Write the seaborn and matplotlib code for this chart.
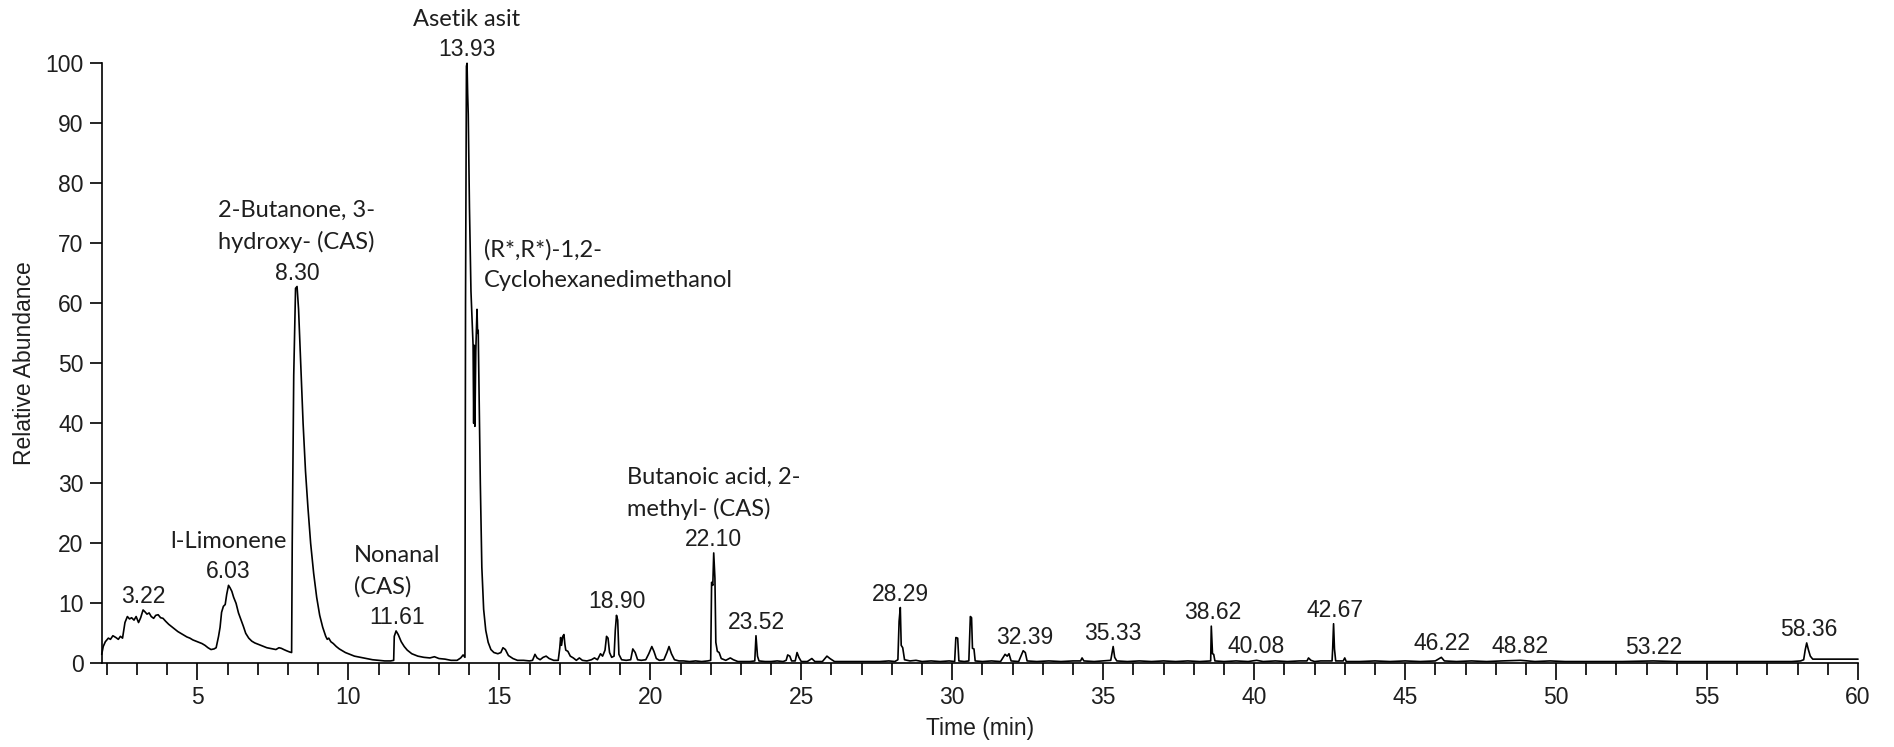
import numpy as np
import pandas as pd
import matplotlib
matplotlib.use("Agg")
import matplotlib.pyplot as plt
from matplotlib.ticker import MultipleLocator
import seaborn as sns

# chromatogram trace (time in min, relative abundance in %)
time_min = [
    1.83, 1.88, 1.95, 2.05, 2.12, 2.20, 2.30, 2.38, 2.45, 2.52, 2.60, 2.68, 2.75, 2.82, 2.90, 2.97,
    3.05, 3.12, 3.20, 3.26, 3.33, 3.40, 3.47, 3.55, 3.62, 3.70, 3.78, 3.86, 3.95, 4.05, 4.15, 4.25,
    4.35, 4.45, 4.55, 4.65, 4.75, 4.85, 4.95, 5.05, 5.15, 5.25, 5.35, 5.45, 5.55, 5.62, 5.70, 5.75,
    5.80, 5.86, 5.92, 5.97, 6.03, 6.08, 6.14, 6.20, 6.28, 6.36, 6.44, 6.52, 6.60, 6.70, 6.80, 6.90,
    7.00, 7.10, 7.20, 7.30, 7.40, 7.50, 7.60, 7.70, 7.78, 7.86, 7.95, 8.05, 8.12, 8.14, 8.19, 8.25,
    8.30, 8.35, 8.42, 8.50, 8.58, 8.66, 8.75, 8.85, 8.95, 9.05, 9.15, 9.25, 9.30, 9.35, 9.42, 9.50,
    9.60, 9.70, 9.80, 9.90, 10.0, 10.2, 10.4, 10.6, 10.8, 11.0, 11.2, 11.4, 11.5, 11.52, 11.58, 11.65,
    11.75, 11.85, 11.95, 12.1, 12.3, 12.5, 12.7, 12.85, 13.0, 13.2, 13.4, 13.6, 13.72, 13.8, 13.86, 13.88,
    13.91, 13.93, 13.95, 13.97, 14.01, 14.06, 14.10, 14.13, 14.15, 14.17, 14.19, 14.22, 14.26, 14.28, 14.30, 14.33,
    14.37, 14.42, 14.48, 14.55, 14.63, 14.72, 14.82, 14.95, 15.05, 15.12, 15.20, 15.30, 15.45, 15.60, 15.80, 16.00,
    16.10, 16.18, 16.25, 16.35, 16.45, 16.55, 16.65, 16.80, 16.95, 17.00, 17.03, 17.06, 17.10, 17.14, 17.17, 17.20,
    17.27, 17.35, 17.45, 17.55, 17.65, 17.75, 17.90, 18.05, 18.15, 18.25, 18.35, 18.42, 18.50, 18.55, 18.60, 18.65,
    18.72, 18.80, 18.84, 18.88, 18.92, 18.96, 19.05, 19.20, 19.35, 19.42, 19.50, 19.58, 19.70, 19.85, 19.95, 20.05,
    20.12, 20.20, 20.30, 20.45, 20.55, 20.62, 20.70, 20.80, 20.95, 21.10, 21.30, 21.50, 21.70, 21.90, 22.00, 22.03,
    22.07, 22.10, 22.14, 22.17, 22.22, 22.28, 22.35, 22.50, 22.65, 22.75, 22.90, 23.10, 23.30, 23.46, 23.50, 23.55,
    23.60, 23.80, 24.00, 24.20, 24.40, 24.50, 24.55, 24.62, 24.68, 24.80, 24.86, 24.92, 25.00, 25.20, 25.35, 25.45,
    25.70, 25.85, 25.95, 26.10, 26.40, 26.80, 27.20, 27.60, 27.90, 28.10, 28.20, 28.24, 28.28, 28.31, 28.36, 28.42,
    28.60, 28.80, 29.00, 29.30, 29.60, 29.90, 30.08, 30.12, 30.18, 30.22, 30.40, 30.55, 30.60, 30.64, 30.67, 30.72,
    30.76, 31.00, 31.30, 31.60, 31.75, 31.82, 31.88, 31.95, 32.20, 32.35, 32.42, 32.48, 32.80, 33.20, 33.60, 34.00,
    34.25, 34.30, 34.36, 34.70, 35.00, 35.25, 35.33, 35.38, 35.45, 35.80, 36.20, 36.60, 37.00, 37.40, 37.80, 38.20,
    38.56, 38.58, 38.62, 38.66, 38.70, 39.00, 39.40, 39.80, 40.08, 40.30, 40.70, 41.10, 41.50, 41.75, 41.80, 41.88,
    42.00, 42.20, 42.58, 42.60, 42.63, 42.66, 42.70, 42.95, 43.00, 43.05, 43.50, 44.00, 44.50, 45.00, 45.50, 46.00,
    46.20, 46.30, 46.70, 47.20, 47.70, 48.20, 48.82, 49.30, 49.80, 50.30, 50.80, 51.50, 52.20, 53.22, 54.00, 55.00,
    56.00, 57.00, 57.80, 58.10, 58.20, 58.25, 58.30, 58.36, 58.42, 58.50, 59.00, 60.00,
]
abundance = [
    1.5, 2.8, 3.6, 4.2, 4.0, 4.6, 4.3, 4.0, 4.5, 4.2, 6.8, 7.8, 7.4, 7.6, 7.2, 7.8,
    6.8, 7.6, 8.9, 8.6, 8.2, 8.4, 7.8, 7.5, 8.0, 8.1, 7.6, 7.5, 7.0, 6.5, 6.1, 5.7,
    5.3, 5.0, 4.7, 4.4, 4.2, 3.9, 3.7, 3.5, 3.3, 3.0, 2.6, 2.3, 2.4, 2.6, 4.5, 6.0,
    8.5, 9.5, 9.8, 11.5, 13.0, 12.6, 12.0, 11.0, 10.0, 8.4, 7.3, 6.2, 5.0, 4.2, 3.7, 3.4,
    3.2, 3.0, 2.8, 2.6, 2.5, 2.4, 2.3, 2.6, 2.5, 2.3, 2.1, 1.9, 1.8, 20.0, 48.0, 62.5,
    62.8, 59.0, 50.0, 40.0, 32.0, 26.0, 20.0, 15.0, 11.0, 8.0, 6.0, 4.5, 4.0, 4.2, 3.6, 3.3,
    2.8, 2.4, 2.1, 1.8, 1.6, 1.2, 1.0, 0.8, 0.6, 0.5, 0.4, 0.4, 0.5, 4.5, 5.4, 4.8,
    3.6, 2.8, 2.2, 1.6, 1.2, 1.0, 0.9, 1.1, 0.8, 0.7, 0.5, 0.5, 0.9, 1.4, 1.0, 60.0,
    99.5, 100.0, 95.0, 91.5, 76.0, 62.0, 57.0, 53.0, 40.0, 53.0, 39.5, 52.0, 59.0, 55.0, 55.5, 45.0,
    30.0, 16.0, 9.0, 5.5, 3.5, 2.3, 1.8, 1.6, 1.8, 2.6, 2.3, 1.3, 0.8, 0.5, 0.5, 0.4,
    0.5, 1.5, 0.9, 0.6, 1.0, 1.2, 0.8, 0.5, 0.5, 2.5, 4.3, 3.0, 4.5, 4.8, 3.2, 2.2,
    2.0, 1.2, 0.9, 0.5, 0.9, 0.5, 0.4, 0.6, 0.9, 0.6, 1.6, 1.2, 2.2, 4.5, 4.2, 1.8,
    1.0, 1.2, 5.5, 8.0, 7.2, 1.5, 0.6, 0.5, 0.6, 2.4, 1.8, 0.6, 0.5, 0.6, 1.6, 2.8,
    2.0, 0.8, 0.5, 0.6, 1.8, 2.8, 1.6, 0.6, 0.4, 0.4, 0.3, 0.4, 0.3, 0.4, 0.5, 13.5,
    13.0, 18.4, 14.2, 3.5, 2.0, 1.8, 0.8, 0.5, 0.9, 0.6, 0.3, 0.3, 0.3, 0.4, 4.6, 1.2,
    0.4, 0.3, 0.3, 0.4, 0.3, 0.5, 1.4, 1.2, 0.4, 0.4, 1.8, 1.0, 0.3, 0.3, 0.8, 0.3,
    0.3, 1.2, 0.8, 0.3, 0.3, 0.3, 0.3, 0.3, 0.4, 0.3, 0.6, 7.0, 9.3, 3.0, 2.6, 0.6,
    0.4, 0.5, 0.3, 0.4, 0.3, 0.4, 0.3, 4.3, 4.2, 0.4, 0.3, 0.4, 7.8, 7.6, 2.5, 2.4,
    0.4, 0.3, 0.4, 0.3, 1.5, 1.2, 1.6, 0.4, 0.3, 2.1, 1.8, 0.4, 0.3, 0.4, 0.3, 0.4,
    0.4, 0.9, 0.4, 0.3, 0.4, 0.5, 2.8, 1.0, 0.4, 0.3, 0.4, 0.3, 0.4, 0.3, 0.4, 0.3,
    0.4, 6.2, 1.6, 1.5, 0.4, 0.3, 0.4, 0.3, 0.5, 0.3, 0.4, 0.3, 0.4, 0.4, 0.9, 0.5,
    0.3, 0.4, 0.4, 2.4, 6.6, 2.4, 0.4, 0.4, 0.9, 0.3, 0.3, 0.4, 0.3, 0.4, 0.3, 0.4,
    1.0, 0.4, 0.3, 0.4, 0.3, 0.4, 0.5, 0.3, 0.4, 0.3, 0.3, 0.3, 0.3, 0.4, 0.3, 0.3,
    0.3, 0.3, 0.3, 0.4, 0.6, 2.2, 3.4, 2.2, 1.2, 0.7, 0.7, 0.7,
]

# labelled peaks
peak_times = [3.22, 6.03, 8.30, 11.61, 13.93, 14.30, 18.90, 22.10, 23.52, 28.29,
              32.39, 35.33, 38.62, 40.08, 42.67, 46.22, 48.82, 53.22, 58.36]
peak_numbers = ["3.22", "6.03", "8.30", "11.61", "13.93", "", "18.90", "22.10", "23.52", "28.29",
                "32.39", "35.33", "38.62", "40.08", "42.67", "46.22", "48.82", "53.22", "58.36"]
peak_names = ["", "l-Limonene", "2-Butanone, 3-\nhydroxy- (CAS)", "Nonanal\n(CAS)", "Asetik asit",
              "(R*,R*)-1,2-\nCyclohexanedimethanol", "", "Butanoic acid, 2-\nmethyl- (CAS)", "", "",
              "", "", "", "", "", "", "", "", ""]

df = pd.DataFrame({"time": time_min, "abundance": abundance})

sns.set_theme(style="ticks")
plt.rcParams["font.family"] = ["Liberation Sans", "DejaVu Sans"]

text_col = "#1e1e1e"
fig = plt.figure(figsize=(18.94, 7.47), dpi=100)
ax = fig.add_axes([0.0537, 0.1120, 0.9273, 0.8033])

sns.lineplot(data=df, x="time", y="abundance", ax=ax, color="black", linewidth=1.2,
             sort=False, estimator=None, clip_on=False)

ax.set_xlim(1.83, 60)
ax.set_ylim(0, 100)
ax.xaxis.set_major_locator(MultipleLocator(5))
ax.xaxis.set_minor_locator(MultipleLocator(1))
ax.yaxis.set_major_locator(MultipleLocator(10))

sns.despine(ax=ax)
for side in ["left", "bottom"]:
    ax.spines[side].set_color("black")
    ax.spines[side].set_linewidth(1.2)

ax.tick_params(axis="x", which="major", direction="out", length=12, width=1.2, pad=4,
               labelsize=16.5, colors="black", labelcolor=text_col)
ax.tick_params(axis="x", which="minor", direction="out", length=8.4, width=1.2, colors="black")
ax.tick_params(axis="y", which="major", direction="out", length=9, width=1.2, pad=4,
               labelsize=16.5, colors="black", labelcolor=text_col)

ax.set_xlabel("Time (min)", fontsize=16.5, color=text_col, labelpad=6)
ax.set_ylabel("Relative Abundance", fontsize=16.5, color=text_col, labelpad=7)
ax.grid(False)

t_arr = np.array(time_min)
a_arr = np.array(abundance)
for t, num, name in zip(peak_times, peak_numbers, peak_names):
    near = (t_arr >= t - 0.08) & (t_arr <= t + 0.08)
    top = a_arr[near].max()
    if num:
        ax.annotate(num, xy=(t, top), xytext=(0, 5), textcoords="offset points",
                    ha="center", va="baseline", fontsize=16.5, color=text_col,
                    annotation_clip=False)
    if name:
        if num:
            off, ha = (0, 24), "center"
        else:
            # no retention time shown: name sits right of the peak
            off, ha = (4, 13), "left"
        ax.annotate(name, xy=(t, top), xytext=off, textcoords="offset points",
                    ha=ha, va="bottom", multialignment="left", linespacing=1.55,
                    fontsize=17, family=["Lato", "DejaVu Sans"], color=text_col,
                    annotation_clip=False)

fig.savefig("out.png", dpi=100)
